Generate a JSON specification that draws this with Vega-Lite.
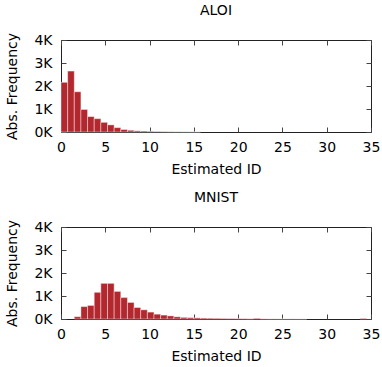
{
  "$schema": "https://vega.github.io/schema/vega-lite/v6.json",
  "padding": {"left": 5, "top": 3, "right": 5, "bottom": 0},
  "spacing": 13,
  "config": {
    "font": "DejaVu Sans",
    "view": {"stroke": "#222222", "strokeWidth": 1},
    "axis": {
      "labelFontSize": 14, "titleFontSize": 14, "labelColor": "#000000", "titleColor": "#000000",
      "titleFontWeight": "normal", "tickColor": "#444444", "tickWidth": 1, "grid": false, "domain": false,
      "labelFlush": false
    },
    "title": {"fontSize": 14, "fontWeight": "normal", "color": "#000000", "offset": 15}
  },
  "datasets": {
    "aloi": [
      {"x0": 0, "x1": 0.75, "count": 2160},
      {"x0": 0.75, "x1": 1.5, "count": 2650},
      {"x0": 1.5, "x1": 2.25, "count": 1750},
      {"x0": 2.25, "x1": 3, "count": 980},
      {"x0": 3, "x1": 3.75, "count": 670},
      {"x0": 3.75, "x1": 4.5, "count": 580},
      {"x0": 4.5, "x1": 5.25, "count": 420},
      {"x0": 5.25, "x1": 6, "count": 310},
      {"x0": 6, "x1": 6.75, "count": 190},
      {"x0": 6.75, "x1": 7.5, "count": 110},
      {"x0": 7.5, "x1": 8.25, "count": 75},
      {"x0": 8.25, "x1": 9, "count": 50},
      {"x0": 9, "x1": 9.75, "count": 40},
      {"x0": 9.75, "x1": 10.5, "count": 30},
      {"x0": 10.5, "x1": 11.25, "count": 22},
      {"x0": 11.25, "x1": 12, "count": 16},
      {"x0": 12, "x1": 12.75, "count": 12},
      {"x0": 12.75, "x1": 13.5, "count": 10},
      {"x0": 13.5, "x1": 14.25, "count": 8},
      {"x0": 14.25, "x1": 15, "count": 6},
      {"x0": 15, "x1": 15.75, "count": 5}
    ],
    "mnist": [
      {"x0": 1.5, "x1": 2.25, "count": 100},
      {"x0": 2.25, "x1": 3, "count": 540},
      {"x0": 3, "x1": 3.75, "count": 590},
      {"x0": 3.75, "x1": 4.5, "count": 1160},
      {"x0": 4.5, "x1": 5.25, "count": 1550},
      {"x0": 5.25, "x1": 6, "count": 1550},
      {"x0": 6, "x1": 6.75, "count": 1200},
      {"x0": 6.75, "x1": 7.5, "count": 930},
      {"x0": 7.5, "x1": 8.25, "count": 720},
      {"x0": 8.25, "x1": 9, "count": 500},
      {"x0": 9, "x1": 9.75, "count": 400},
      {"x0": 9.75, "x1": 10.5, "count": 300},
      {"x0": 10.5, "x1": 11.25, "count": 210},
      {"x0": 11.25, "x1": 12, "count": 170},
      {"x0": 12, "x1": 12.75, "count": 135},
      {"x0": 12.75, "x1": 13.5, "count": 95},
      {"x0": 13.5, "x1": 14.25, "count": 70},
      {"x0": 14.25, "x1": 15, "count": 60},
      {"x0": 15, "x1": 15.75, "count": 50},
      {"x0": 15.75, "x1": 16.5, "count": 40},
      {"x0": 16.5, "x1": 17.25, "count": 35},
      {"x0": 17.25, "x1": 18, "count": 30},
      {"x0": 18, "x1": 18.75, "count": 25},
      {"x0": 18.75, "x1": 19.5, "count": 20},
      {"x0": 19.5, "x1": 20.25, "count": 18},
      {"x0": 20.25, "x1": 21, "count": 15},
      {"x0": 21, "x1": 21.75, "count": 10},
      {"x0": 21.75, "x1": 22.5, "count": 30},
      {"x0": 22.5, "x1": 23.25, "count": 8},
      {"x0": 23.25, "x1": 24, "count": 5},
      {"x0": 24, "x1": 24.75, "count": 5},
      {"x0": 24.75, "x1": 25.5, "count": 4},
      {"x0": 25.5, "x1": 26.25, "count": 4},
      {"x0": 26.25, "x1": 27, "count": 3},
      {"x0": 27, "x1": 27.75, "count": 3},
      {"x0": 33.75, "x1": 34.5, "count": 25}
    ]
  },
  "vconcat": [
    {
      "title": "ALOI",
      "width": 310, "height": 92,
      "data": {"name": "aloi"},
      "layer": [
        {
          "mark": {"type": "rect", "color": "#b3282e", "stroke": "#ffffff", "strokeWidth": 0.6, "strokeOpacity": 0.7},
          "encoding": {
            "x": {"field": "x0", "type": "quantitative", "scale": {"domain": [0, 35], "nice": false},
              "axis": {"orient": "bottom", "title": "Estimated ID", "values": [0, 5, 10, 15, 20, 25, 30, 35], "tickSize": -5, "labelPadding": 13, "titlePadding": 8}},
            "x2": {"field": "x1"},
            "y": {"field": "count", "type": "quantitative", "scale": {"domain": [0, 4000], "nice": false},
              "axis": {"orient": "left", "title": "Abs. Frequency", "values": [0, 1000, 2000, 3000, 4000], "labelExpr": "datum.value/1000 + 'K'", "tickSize": -5, "labelPadding": 14, "titlePadding": 14}},
            "y2": {"datum": 0}
          }
        },
        {
          "mark": {"type": "rect", "opacity": 0},
          "encoding": {
            "x": {"field": "x0", "type": "quantitative", "scale": {"domain": [0, 35], "nice": false},
              "axis": {"orient": "top", "title": null, "labels": false, "values": [0, 5, 10, 15, 20, 25, 30, 35], "tickSize": -5}},
            "x2": {"field": "x1"},
            "y": {"field": "count", "type": "quantitative", "scale": {"domain": [0, 4000], "nice": false},
              "axis": {"orient": "right", "title": null, "labels": false, "values": [0, 1000, 2000, 3000, 4000], "tickSize": -5}},
            "y2": {"datum": 0}
          }
        }
      ],
      "resolve": {"axis": {"x": "independent", "y": "independent"}}
    },
    {
      "title": "MNIST",
      "width": 310, "height": 92,
      "data": {"name": "mnist"},
      "layer": [
        {
          "mark": {"type": "rect", "color": "#b3282e", "stroke": "#ffffff", "strokeWidth": 0.6, "strokeOpacity": 0.7},
          "encoding": {
            "x": {"field": "x0", "type": "quantitative", "scale": {"domain": [0, 35], "nice": false},
              "axis": {"orient": "bottom", "title": "Estimated ID", "values": [0, 5, 10, 15, 20, 25, 30, 35], "tickSize": -5, "labelPadding": 13, "titlePadding": 8}},
            "x2": {"field": "x1"},
            "y": {"field": "count", "type": "quantitative", "scale": {"domain": [0, 4000], "nice": false},
              "axis": {"orient": "left", "title": "Abs. Frequency", "values": [0, 1000, 2000, 3000, 4000], "labelExpr": "datum.value/1000 + 'K'", "tickSize": -5, "labelPadding": 14, "titlePadding": 14}},
            "y2": {"datum": 0}
          }
        },
        {
          "mark": {"type": "rect", "opacity": 0},
          "encoding": {
            "x": {"field": "x0", "type": "quantitative", "scale": {"domain": [0, 35], "nice": false},
              "axis": {"orient": "top", "title": null, "labels": false, "values": [0, 5, 10, 15, 20, 25, 30, 35], "tickSize": -5}},
            "x2": {"field": "x1"},
            "y": {"field": "count", "type": "quantitative", "scale": {"domain": [0, 4000], "nice": false},
              "axis": {"orient": "right", "title": null, "labels": false, "values": [0, 1000, 2000, 3000, 4000], "tickSize": -5}},
            "y2": {"datum": 0}
          }
        }
      ],
      "resolve": {"axis": {"x": "independent", "y": "independent"}}
    }
  ]
}
